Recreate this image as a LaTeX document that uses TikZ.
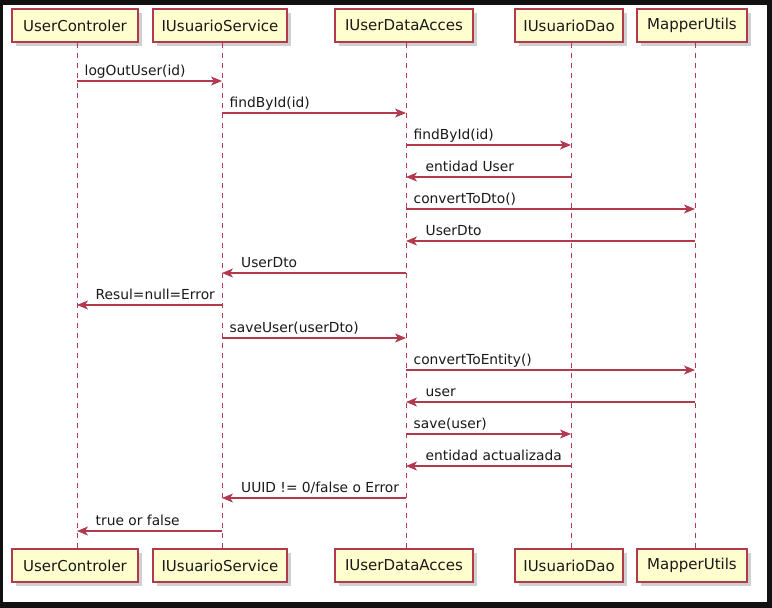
\documentclass[tikz,border=0pt]{standalone}
\usepackage{fontspec}
\setmainfont{DejaVu Sans}
\usetikzlibrary{arrows.meta,shadows}
\definecolor{pred}{HTML}{A80036}
\definecolor{lred}{HTML}{B23A4E}
\definecolor{pfill}{HTML}{FEFECE}
\definecolor{frame}{HTML}{111111}
\tikzset{
  part/.style={draw=lred, line width=1.4pt, fill=pfill, minimum height=33pt, inner sep=0pt,
    font=\fontsize{15}{15}\selectfont, text=black!90,
    drop shadow={shadow xshift=3.5pt, shadow yshift=-3.5pt, opacity=0.3, fill=black!60}},
  life/.style={draw=lred, line width=1pt, dash pattern=on 5pt off 5pt},
  msg/.style={draw=lred, line width=1.1pt, -{Stealth[length=11pt,width=9pt,inset=3pt]}},
  lbl/.style={anchor=base west, inner sep=0pt, font=\fontsize{13.8}{14}\selectfont, text=black!90}
}
\begin{document}
\begin{tikzpicture}[x=1pt,y=-1pt]
\useasboundingbox (0,0) rectangle (772,608);
\fill[frame] (0,0) rectangle (772,608);
\fill[white] (3,5) rectangle (767,602);
% top participants
\node[part, minimum width=126pt] (ctrlT) at (75,25.5) {UserControler};
\node[part, minimum width=134pt] (svcT) at (220,25.5) {IUsuarioService};
\node[part, minimum width=138pt] (daT) at (404,25.5) {IUserDataAcces};
\node[part, minimum width=108pt] (daoT) at (569,25.5) {IUsuarioDao};
\node[part, minimum width=110pt] (mapT) at (692,25.5) {MapperUtils};
% bottom participants
\node[part, minimum width=126pt] (ctrlB) at (75,565.5) {UserControler};
\node[part, minimum width=134pt] (svcB) at (220,565.5) {IUsuarioService};
\node[part, minimum width=138pt] (daB) at (404,565.5) {IUserDataAcces};
\node[part, minimum width=108pt] (daoB) at (569,565.5) {IUsuarioDao};
\node[part, minimum width=110pt] (mapB) at (692,565.5) {MapperUtils};
% lifeline anchors
\coordinate (ctrl) at ([xshift=2pt]ctrlT.south);
\coordinate (svc) at ([xshift=2pt]svcT.south);
\coordinate (da) at ([xshift=2pt]daT.south);
\coordinate (dao) at ([xshift=2pt]daoT.south);
\coordinate (map) at ([xshift=3pt]mapT.south);
% lifelines
\draw[life] (ctrl) -- (ctrl |- ctrlB.north);
\draw[life] (svc) -- (svc |- svcB.north);
\draw[life] (da) -- (da |- daB.north);
\draw[life] (dao) -- (dao |- daoB.north);
\draw[life] (map) -- (map |- mapB.north);
% messages
\draw[msg] (ctrl |- 0,81) -- (svc |- 0,81);
\node[lbl] (m1) at ([xshift=7.5pt]ctrl |- 0,75) {logOutUser(id)};
\draw[msg] (svc |- 0,113) -- (da |- 0,113);
\node[lbl] (m2) at ([xshift=7.5pt]svc |- 0,107) {findById(id)};
\draw[msg] (da |- 0,145) -- (dao |- 0,145);
\node[lbl] (m3) at ([xshift=7.5pt]da |- 0,139) {findById(id)};
\draw[msg] (dao |- 0,177) -- (da |- 0,177);
\node[lbl] (m4) at ([xshift=19.5pt]da |- 0,171) {entidad User};
\draw[msg] (da |- 0,209) -- (map |- 0,209);
\node[lbl] (m5) at ([xshift=7.5pt]da |- 0,203) {convertToDto()};
\draw[msg] (map |- 0,241) -- (da |- 0,241);
\node[lbl] (m6) at ([xshift=19.5pt]da |- 0,235) {UserDto};
\draw[msg] (da |- 0,273) -- (svc |- 0,273);
\node[lbl] (m7) at ([xshift=19pt]svc |- 0,267) {UserDto};
\draw[msg] (svc |- 0,305) -- (ctrl |- 0,305);
\node[lbl] (m8) at ([xshift=18.5pt]ctrl |- 0,299) {Resul=null=Error};
\draw[msg] (svc |- 0,338) -- (da |- 0,338);
\node[lbl] (m9) at ([xshift=7.5pt]svc |- 0,332) {saveUser(userDto)};
\draw[msg] (da |- 0,370) -- (map |- 0,370);
\node[lbl] (m10) at ([xshift=7.5pt]da |- 0,364) {convertToEntity()};
\draw[msg] (map |- 0,402) -- (da |- 0,402);
\node[lbl] (m11) at ([xshift=19.5pt]da |- 0,396) {user};
\draw[msg] (da |- 0,434) -- (dao |- 0,434);
\node[lbl] (m12) at ([xshift=7.5pt]da |- 0,428) {save(user)};
\draw[msg] (dao |- 0,466) -- (da |- 0,466);
\node[lbl] (m13) at ([xshift=19.5pt]da |- 0,460) {entidad actualizada};
\draw[msg] (da |- 0,498) -- (svc |- 0,498);
\node[lbl] (m14) at ([xshift=19pt]svc |- 0,492) {UUID != 0/false o Error};
\draw[msg] (svc |- 0,531) -- (ctrl |- 0,531);
\node[lbl] (m15) at ([xshift=18.5pt]ctrl |- 0,525) {true or false};
\end{tikzpicture}
\end{document}
